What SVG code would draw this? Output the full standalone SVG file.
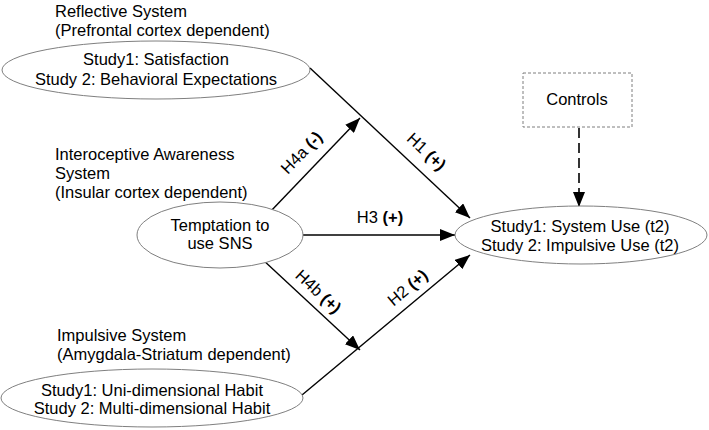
<svg xmlns="http://www.w3.org/2000/svg" width="709" height="430" viewBox="0 0 709 430">
<style>
text{font-family:"Liberation Sans",Arial,sans-serif;font-size:16.5px;fill:#000}
.c{text-anchor:middle}
.b{font-weight:bold}
ellipse{fill:#fff;stroke:#7f7f7f;stroke-width:1}
.ln{stroke:#000;stroke-width:1.4;fill:none}
.dash{stroke:#333;stroke-width:2;fill:none;stroke-dasharray:10,5}
</style>
<defs>
<marker id="ah" markerUnits="userSpaceOnUse" markerWidth="16" markerHeight="12" refX="15" refY="6" orient="auto">
<path d="M0,0 L15,6 L0,12 Z" fill="#000"/>
</marker>
</defs>
<rect width="709" height="430" fill="#fff"/>
<g id="connectors">
<line class="ln" x1="310" y1="68" x2="470" y2="218" marker-end="url(#ah)"/>
<line class="ln" x1="270" y1="212" x2="360" y2="118" marker-end="url(#ah)"/>
<line class="ln" x1="303" y1="235" x2="455" y2="235" marker-end="url(#ah)"/>
<line class="ln" x1="262" y1="259" x2="360" y2="350" marker-end="url(#ah)"/>
<line class="ln" x1="302" y1="395" x2="470" y2="255" marker-end="url(#ah)"/>
<line class="dash" x1="579" y1="128" x2="579" y2="207" marker-end="url(#ah)"/>
<text transform="translate(302,153) rotate(-46)" class="c" y="5">H4a <tspan class="b">(-)</tspan></text>
<text transform="translate(426,152) rotate(43)" class="c" y="5">H1 <tspan class="b">(+)</tspan></text>
<text x="380" y="223" class="c">H3 <tspan class="b">(+)</tspan></text>
<text transform="translate(318,292) rotate(43)" class="c" y="5">H4b <tspan class="b">(+)</tspan></text>
<text transform="translate(408,288) rotate(-40)" class="c" y="5">H2 <tspan class="b">(+)</tspan></text>
</g>
<g id="reflective">
<text x="55" y="17">Reflective System</text>
<text x="55" y="36">(Prefrontal cortex dependent)</text>
<ellipse cx="156" cy="70" rx="154" ry="29"/>
<text x="156" y="65" class="c">Study1: Satisfaction</text>
<text x="156" y="85" class="c">Study 2: Behavioral Expectations</text>
</g>
<g id="interoceptive">
<text x="55" y="160">Interoceptive Awareness</text>
<text x="55" y="179">System</text>
<text x="55" y="198">(Insular cortex dependent)</text>
<ellipse cx="220" cy="235" rx="83" ry="33"/>
<text x="220" y="231" class="c">Temptation to</text>
<text x="220" y="249" class="c">use SNS</text>
</g>
<g id="impulsive">
<text x="57" y="341">Impulsive System</text>
<text x="57" y="360">(Amygdala-Striatum dependent)</text>
<ellipse cx="152" cy="398" rx="151" ry="29"/>
<text x="152" y="396" class="c">Study1: Uni-dimensional Habit</text>
<text x="152" y="414" class="c">Study 2: Multi-dimensional Habit</text>
</g>
<g id="use">
<ellipse cx="581" cy="235" rx="126" ry="29"/>
<text x="580" y="232" class="c">Study1: System Use (t2)</text>
<text x="580" y="251" class="c">Study 2: Impulsive Use (t2)</text>
</g>
<g id="controls">
<rect x="523" y="73" width="109" height="54" fill="#fff" stroke="#7f7f7f" stroke-width="1" stroke-dasharray="3,2"/>
<text x="577" y="105" class="c">Controls</text>
</g>
</svg>
